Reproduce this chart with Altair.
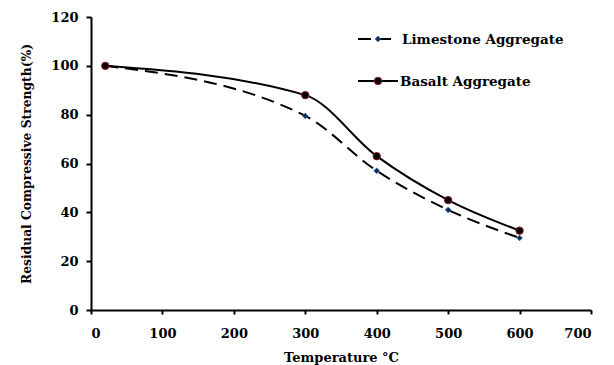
import altair as alt
import pandas as pd

temps = [20, 300, 400, 500, 600]
limestone = [100, 79.5, 57, 41, 29.5]
basalt = [100, 88, 63, 45, 32.5]
series_names = ["Limestone Aggregate", "Basalt Aggregate"]

df_l = pd.DataFrame({"T": temps, "S": limestone})
df_b = pd.DataFrame({"T": temps, "S": basalt})

FONT = "DejaVu Serif"

x = alt.X("T:Q", scale=alt.Scale(domain=[0, 700], nice=False),
          axis=alt.Axis(values=[0, 100, 200, 300, 400, 500, 600, 700], title="Temperature °C",
                        grid=False, domain=True, domainWidth=2, domainColor="black",
                        tickColor="black", tickWidth=2, tickSize=4, labelPadding=13,
                        labelFont=FONT, labelFontSize=13, labelFontWeight="bold", labelColor="black",
                        titleFont=FONT, titleFontSize=13, titleFontWeight="bold", titleColor="black",
                        titlePadding=11))
y = alt.Y("S:Q", scale=alt.Scale(domain=[0, 120], nice=False),
          axis=alt.Axis(values=[0, 20, 40, 60, 80, 100, 120], title="Residual Compressive Strength(%)",
                        grid=False, domain=True, domainWidth=2, domainColor="black",
                        tickColor="black", tickWidth=2, tickSize=5, labelPadding=8,
                        labelFont=FONT, labelFontSize=13, labelFontWeight="bold", labelColor="black",
                        titleFont=FONT, titleFontSize=12.3, titleFontWeight="bold", titleColor="black",
                        titlePadding=17))

line_l = alt.Chart(df_l).mark_line(color="black", strokeWidth=2, strokeDash=[13, 7],
                                   interpolate="monotone").encode(x=x, y=y)
pts_l = alt.Chart(df_l).mark_point(shape="diamond", filled=True, color="#102a4c", size=30,
                                   stroke="#2a5aa0", strokeWidth=1, opacity=1).encode(x="T:Q", y="S:Q")
line_b = alt.Chart(df_b).mark_line(color="black", strokeWidth=2,
                                   interpolate="monotone").encode(x="T:Q", y="S:Q")
pts_b = alt.Chart(df_b).mark_point(shape="circle", filled=True, color="black", size=55,
                                   stroke="#8b1a1a", strokeWidth=1, opacity=1).encode(x="T:Q", y="S:Q")

# manual legend
leg_l_line = alt.Chart(df_l.head(1)).mark_rule(color="black", strokeWidth=2, strokeDash=[13, 7]).encode(
    x=alt.value(267), x2=alt.value(307), y=alt.value(22))
leg_l_pt = alt.Chart(df_l.head(1)).mark_point(shape="diamond", filled=True, color="#102a4c", size=30,
                                             stroke="#2a5aa0", strokeWidth=1, opacity=1).encode(
    x=alt.value(287), y=alt.value(22))
leg_l_txt = alt.Chart(pd.DataFrame({"t": [series_names[0]]})).mark_text(
    align="left", baseline="middle", font=FONT, fontSize=13.5, fontWeight="bold", color="black").encode(
    x=alt.value(311), y=alt.value(23), text="t:N")
leg_b_line = alt.Chart(df_b.head(1)).mark_rule(color="black", strokeWidth=2).encode(
    x=alt.value(267), x2=alt.value(307), y=alt.value(64))
leg_b_pt = alt.Chart(df_b.head(1)).mark_point(shape="circle", filled=True, color="black", size=55,
                                             stroke="#8b1a1a", strokeWidth=1, opacity=1).encode(
    x=alt.value(287), y=alt.value(64))
leg_b_txt = alt.Chart(pd.DataFrame({"t": [series_names[1]]})).mark_text(
    align="left", baseline="middle", font=FONT, fontSize=13.5, fontWeight="bold", color="black").encode(
    x=alt.value(309), y=alt.value(65), text="t:N")

chart = alt.layer(line_l, line_b, pts_l, pts_b,
                  leg_l_line, leg_l_pt, leg_l_txt, leg_b_line, leg_b_pt, leg_b_txt).properties(
    width=500, height=293,
    autosize=alt.AutoSizeParams(type="none"),
    padding={"left": 91, "top": 17, "right": 23, "bottom": 55},
    background="white",
).configure_view(stroke=None)

chart.save("out.html", embed_options={"renderer": "svg", "actions": False})
